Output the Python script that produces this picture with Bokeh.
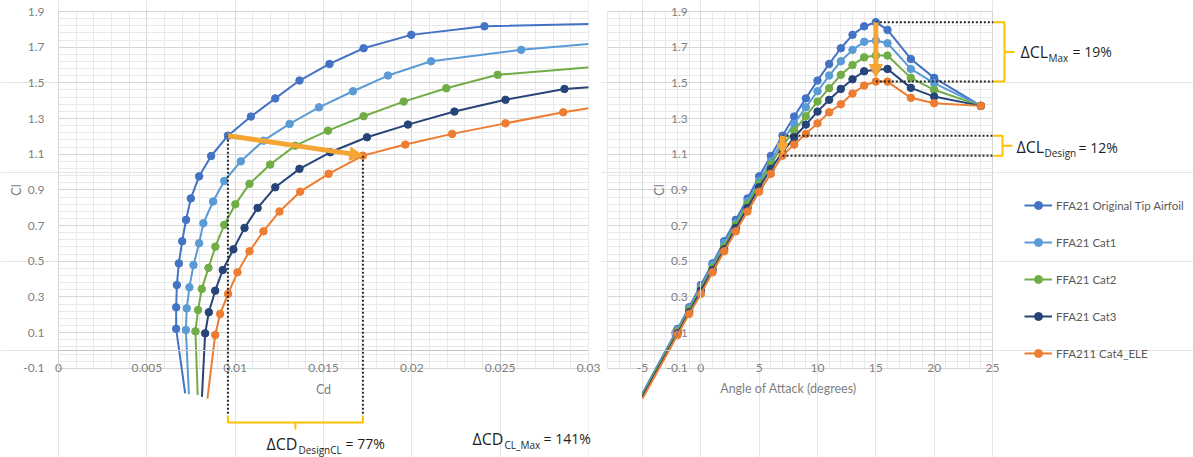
from bokeh.plotting import figure
from bokeh.layouts import row
from bokeh.models import (Range1d, LinearAxis, Grid, FixedTicker, PrintfTickFormatter,
                          Arrow, NormalHead, Legend, LegendItem)
from bokeh.core.properties import value
from bokeh.embed import file_html
from bokeh.resources import INLINE

# ---------------- data ----------------
aoa = [-5, -2, -1, 0, 1, 2, 3, 4, 5, 6, 7, 8, 9, 10, 11, 12, 13, 14, 15, 16, 18, 20, 24]

names = ["FFA21 Original Tip Airfoil", "FFA21 Cat1", "FFA21 Cat2", "FFA21 Cat3", "FFA211 Cat4_ELE"]
colors = ["#4472C4", "#5B9BD5", "#70AD47", "#264478", "#ED7D31"]

cl_orig = [-0.24, 0.121, 0.242, 0.367, 0.488, 0.612, 0.732, 0.852, 0.976, 1.090, 1.204, 1.311, 1.413,
           1.513, 1.606, 1.694, 1.769, 1.817, 1.840, 1.797, 1.634, 1.528, 1.371]
cl_cat1 = [-0.245, 0.115, 0.236, 0.354, 0.479, 0.601, 0.713, 0.835, 0.950, 1.060, 1.176, 1.270, 1.363,
           1.453, 1.541, 1.621, 1.685, 1.730, 1.737, 1.722, 1.578, 1.498, 1.371]
cl_cat2 = [-0.25, 0.107, 0.227, 0.345, 0.463, 0.582, 0.704, 0.819, 0.934, 1.042, 1.148, 1.232, 1.313,
           1.395, 1.470, 1.545, 1.600, 1.643, 1.653, 1.653, 1.528, 1.461, 1.371]
cl_cat3 = [-0.26, 0.096, 0.214, 0.335, 0.451, 0.567, 0.687, 0.799, 0.915, 1.018, 1.111, 1.195, 1.266,
           1.339, 1.405, 1.466, 1.520, 1.565, 1.574, 1.578, 1.472, 1.423, 1.371]
cl_cat4 = [-0.27, 0.087, 0.205, 0.317, 0.438, 0.556, 0.668, 0.779, 0.890, 0.990, 1.092, 1.154, 1.214,
           1.273, 1.335, 1.380, 1.440, 1.485, 1.507, 1.507, 1.416, 1.386, 1.371]

# drag coefficients for the first points of each polar (same AoA order)
cd_orig = [0.00717, 0.00666, 0.00666, 0.00670, 0.00681, 0.00700, 0.00722, 0.00749, 0.00796, 0.00864,
           0.00959, 0.01089, 0.01227, 0.01364, 0.01534, 0.01727, 0.01997, 0.02411, 0.0343]
cd_cat1 = [0.00738, 0.00721, 0.00726, 0.00741, 0.00764, 0.00796, 0.00820, 0.00875, 0.00938, 0.01032,
           0.01160, 0.01308, 0.01474, 0.01667, 0.01865, 0.02109, 0.02619, 0.0314]
cd_cat2 = [0.00788, 0.00775, 0.00790, 0.00811, 0.00849, 0.00888, 0.00938, 0.01001, 0.01081, 0.01198,
           0.01340, 0.01525, 0.01727, 0.01954, 0.02195, 0.02486, 0.0316]
cd_cat3 = [0.00812, 0.00830, 0.00851, 0.00887, 0.00930, 0.00990, 0.01053, 0.01127, 0.01227, 0.01364,
           0.01538, 0.01746, 0.01978, 0.02241, 0.02530, 0.02864, 0.0368]
cd_cat4 = [0.00843, 0.00887, 0.00915, 0.00960, 0.01013, 0.01081, 0.01160, 0.01251, 0.01368, 0.01529,
           0.01723, 0.01963, 0.02228, 0.02530, 0.02857, 0.0315]

cl_all = [cl_orig, cl_cat1, cl_cat2, cl_cat3, cl_cat4]
cd_all = [cd_orig, cd_cat1, cd_cat2, cd_cat3, cd_cat4]

cd_ticks = [0, 0.005, 0.01, 0.015, 0.02, 0.025, 0.03]
aoa_ticks = [-5, 0, 5, 10, 15, 20, 25]
cl_ticks = [-0.1, 0.1, 0.3, 0.5, 0.7, 0.9, 1.1, 1.3, 1.5, 1.7, 1.9]

design_aoa = 7
stall_aoa = 15

# ---------------- styling ----------------
FONT = "Lato"
AFONT = "Open Sans"
TICK_C = "#7f7f7f"
ARROW_C = "#F4A534"
GOLD = "#FFC000"
DOT_C = "#262626"
TXT_C = "#1f1f1f"
H = 457
PXU = 178.4          # pixels per unit of Cl
cl_minor = [round(-0.1 + 0.04 * i, 2) for i in range(51)]


def ly(py):
    return 1.9 - (py - 11) / PXU


def lx(px):
    return (px - 58) / 530 * 0.03


R_SCALE = 350 / 30.0


def rx(px):
    return -8 + (px - 607) / R_SCALE


def style_axis(ax):
    ax.major_tick_line_color = None
    ax.minor_tick_line_color = None
    ax.major_tick_out = 0
    ax.major_tick_in = 0
    ax.major_label_text_font = FONT
    ax.major_label_text_font_size = "12px"
    ax.major_label_text_color = TICK_C
    ax.axis_label_text_font = FONT
    ax.axis_label_text_font_size = "12.5px"
    ax.axis_label_text_color = TICK_C
    ax.axis_label_text_font_style = "normal"
    ax.axis_line_color = "#c4c4c4"
    ax.axis_line_width = 1


def add_grids(p, xticker, xb, yb):
    yticker = FixedTicker(ticks=cl_ticks, minor_ticks=cl_minor)
    gx = Grid(dimension=0, ticker=xticker, bounds=xb, cross_bounds=yb,
              grid_line_color="#d6d6d6", minor_grid_line_color="#e9e9e9")
    gy = Grid(dimension=1, ticker=yticker, bounds=yb, cross_bounds=xb,
              grid_line_color="#d6d6d6", minor_grid_line_color="#e9e9e9")
    p.add_layout(gx)
    p.add_layout(gy)
    return yticker


def sub_label(p, xs, ys, parts):
    (x1, x2, x3), (y1, y2) = xs, ys
    main, sub, rest = parts
    kw = dict(text_font=value(AFONT), text_baseline="middle", text_align="left", text_color=TXT_C)
    p.text(x=[x1], y=[y1], text=[main], text_font_size="16px", **kw)
    p.text(x=[x2], y=[y2], text=[sub], text_font_size="10px", **kw)
    p.text(x=[x3], y=[y1], text=[rest], text_font_size="14px", **kw)


def new_fig(width, xr):
    p = figure(width=width, height=H, x_range=Range1d(*xr), y_range=Range1d(ly(H), ly(0)),
               output_backend="svg", toolbar_location=None, x_axis_location=None, y_axis_location=None,
               min_border_left=0, min_border_right=0, min_border_top=0, min_border_bottom=0)
    p.outline_line_color = None
    return p


# ---------------- left chart: Cl vs Cd ----------------
pL = new_fig(600, (lx(0), lx(600)))
xtL = FixedTicker(ticks=cd_ticks, minor_ticks=[round(0.001 * i, 3) for i in range(31)])
ytL = add_grids(pL, xtL, (0, 0.03), (-0.1, 1.9))

axL = LinearAxis(ticker=xtL, formatter=PrintfTickFormatter(format="%g"), fixed_location=0,
                 bounds=(0, 0.03), axis_label="Cd")
style_axis(axL)
axL.major_label_standoff = 10
axL.axis_label_standoff = 6
pL.add_layout(axL, "below")
ayL = LinearAxis(ticker=ytL, formatter=PrintfTickFormatter(format="%g"), fixed_location=0,
                 bounds=(-0.1, 1.9), axis_label="Cl")
style_axis(ayL)
ayL.axis_line_color = "#d6d6d6"
ayL.major_label_standoff = 10
ayL.axis_label_standoff = -4
pL.add_layout(ayL, "left")

for cd, cl, c in zip(cd_all, cl_all, colors):
    y = cl[:len(cd)]
    pL.line(cd, y, line_color=c, line_width=2)
    vis = [i for i in range(len(cd)) if y[i] >= -0.1]
    pL.scatter([cd[i] for i in vis], [y[i] for i in vis], size=7.5, marker="circle",
               fill_color=c, line_color=c)

# plot-area edge: curves end at Cd = 0.03
pL.quad(left=[0.03], right=[lx(600) + 0.001], bottom=[ly(H) - 0.1], top=[ly(0) + 0.1],
        fill_color="white", line_color=None)

i7 = aoa.index(design_aoa)
i15 = aoa.index(stall_aoa)
cdA, clA = cd_orig[i7], cl_orig[i7]
cdB, clB = cd_cat4[i7], cl_cat4[i7]

pL.line([cdA, cdA], [clA, ly(415)], line_color=DOT_C, line_width=2, line_dash="2 2")
pL.line([cdB, cdB], [clB, ly(415)], line_color=DOT_C, line_width=2, line_dash="2 2")
pL.line([cdA, cdA, cdB, cdB], [ly(415), ly(422), ly(422), ly(415)], line_color=GOLD, line_width=2)
pL.line([(cdA + cdB) / 2] * 2, [ly(422), ly(429)], line_color=GOLD, line_width=2)
pL.add_layout(Arrow(end=NormalHead(size=13, fill_color=ARROW_C, line_color=ARROW_C),
                    x_start=cdA, y_start=clA, x_end=cdB, y_end=clB,
                    line_color=ARROW_C, line_width=5))

sub_label(pL, (lx(266), lx(298), lx(345)), (ly(443), ly(449)), ("ΔCD", "DesignCL", "= 77%"))
sub_label(pL, (lx(472), lx(504), lx(543)), (ly(438), ly(444)), ("ΔCD", "CL_Max", "= 141%"))

# ---------------- right chart: Cl vs AoA ----------------
pR = new_fig(593, (rx(600), rx(1193)))
xtR = FixedTicker(ticks=aoa_ticks, minor_ticks=list(range(-8, 26)))
ytR = add_grids(pR, xtR, (-8, 25), (-0.1, 1.9))

axR = LinearAxis(ticker=xtR, formatter=PrintfTickFormatter(format="%g"), fixed_location=0,
                 bounds=(-8, 25))
style_axis(axR)
axR.major_label_standoff = 10
pR.add_layout(axR, "below")
ayR = LinearAxis(ticker=ytR, formatter=PrintfTickFormatter(format="%g"), fixed_location=0,
                 bounds=(-0.1, 1.9), axis_label="Cl")
style_axis(ayR)
ayR.axis_line_color = "#d6d6d6"
ayR.major_label_standoff = 9
ayR.axis_label_standoff = -4
pR.add_layout(ayR, "left")

pR.text(x=[rx(788)], y=[ly(388)], text=["Angle of Attack (degrees)"], text_font=value(FONT),
        text_font_size="12.5px", text_color=TICK_C, text_align="center", text_baseline="middle")

items = []
for cl, c, nm in zip(cl_all, colors, names):
    lr = pR.line(aoa, cl, line_color=c, line_width=2)
    vis = [i for i in range(len(aoa)) if cl[i] >= -0.1]
    sr = pR.scatter([aoa[i] for i in vis], [cl[i] for i in vis], size=7.5, marker="circle",
                    fill_color=c, line_color=c)
    items.append(LegendItem(label=nm, renderers=[lr, sr]))

xe = rx(993)
for aa, yy in [(stall_aoa, cl_orig[i15]), (stall_aoa, cl_cat4[i15]),
               (design_aoa, cl_orig[i7]), (design_aoa, cl_cat4[i7])]:
    pR.line([aa, xe], [yy, yy], line_color=DOT_C, line_width=2, line_dash="2 2")

for (ya, yb, xv, xp) in [(cl_orig[i15], cl_cat4[i15], 1004, 1014), (cl_orig[i7], cl_cat4[i7], 1002, 1012)]:
    pR.line([xe, rx(xv), rx(xv), xe], [ya, ya, yb, yb], line_color=GOLD, line_width=2)
    pR.line([rx(xv), rx(xp)], [(ya + yb) / 2] * 2, line_color=GOLD, line_width=2)

pR.add_layout(Arrow(end=NormalHead(size=13, fill_color=ARROW_C, line_color=ARROW_C),
                    x_start=stall_aoa, y_start=cl_orig[i15], x_end=stall_aoa, y_end=ly(77),
                    line_color=ARROW_C, line_width=5))
pR.add_layout(Arrow(end=NormalHead(size=11, fill_color=ARROW_C, line_color=ARROW_C),
                    x_start=design_aoa, y_start=cl_orig[i7], x_end=design_aoa, y_end=ly(154),
                    line_color=ARROW_C, line_width=5))

sub_label(pR, (rx(1020), rx(1048), rx(1072)), (ly(51), ly(57)), ("ΔCL", "Max", "= 19%"))
sub_label(pR, (rx(1016), rx(1044), rx(1078)), (ly(146.5), ly(152.5)), ("ΔCL", "Design", "= 12%"))

legend = Legend(items=items, location=(424, 94), orientation="vertical",
                glyph_width=28, glyph_height=20, label_height=20, label_standoff=4, spacing=17,
                padding=0, margin=0, border_line_color=None, background_fill_alpha=0,
                label_text_font=FONT, label_text_font_size="11.5px", label_text_color="#595959")
pR.add_layout(legend, "center")

layout = row(pL, pR)
open("out.html", "w").write(file_html(layout, INLINE))
